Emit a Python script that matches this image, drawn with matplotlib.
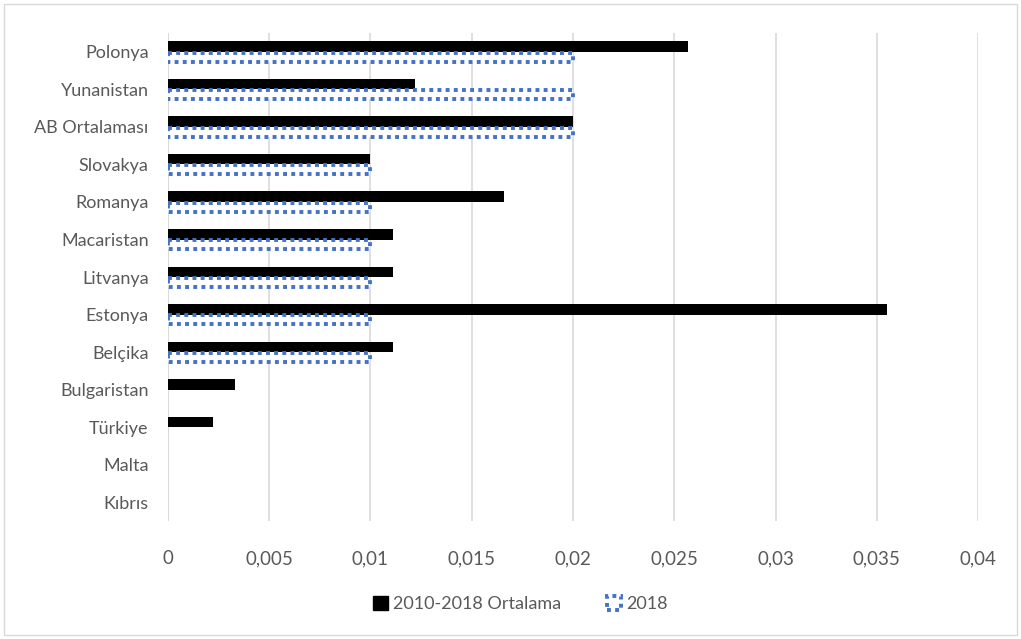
import matplotlib
matplotlib.use("Agg")
import matplotlib.pyplot as plt
from matplotlib.patches import Patch, Rectangle
import numpy as np

categories = ["Polonya", "Yunanistan", "AB Ortalaması", "Slovakya", "Romanya", "Macaristan",
              "Litvanya", "Estonya", "Belçika", "Bulgaristan", "Türkiye", "Malta", "Kıbrıs"]
avg_2010_2018 = [0.0257, 0.0122, 0.0200, 0.0100, 0.0166, 0.0111, 0.0111, 0.0355, 0.0111,
                 0.0033, 0.0022, 0.0, 0.0]
val_2018 = [0.0200, 0.0200, 0.0200, 0.0100, 0.0100, 0.0100, 0.0100, 0.0100, 0.0100,
            0.0, 0.0, 0.0, 0.0]
xticks = [0, 0.005, 0.01, 0.015, 0.02, 0.025, 0.03, 0.035, 0.04]
xticklabels = ["0", "0,005", "0,01", "0,015", "0,02", "0,025", "0,03", "0,035", "0,04"]
series_names = ["2010-2018 Ortalama", "2018"]

plt.rcParams['font.family'] = ['Lato', 'DejaVu Sans']
txt = '#595959'
blue = '#4472C4'

fig = plt.figure(figsize=(10.21, 6.39), dpi=100)
ax = fig.add_axes([0.1645, 0.185, 0.7935, 0.763])

y = np.arange(len(categories))
h = 0.28
ax.barh(y - h / 2, avg_2010_2018, height=h, color='black', zorder=3)
for yi, v in zip(y, val_2018):
    if v > 0:
        ax.barh(yi + h / 2, v, height=h * 0.85, facecolor='white', edgecolor=blue,
                linewidth=2.8, linestyle=(0, (1, 1.1)), zorder=3)

ax.set_ylim(len(categories) - 0.5, -0.5)
ax.set_xlim(0, 0.04)
ax.set_yticks(y)
ax.set_yticklabels(categories, fontsize=13, color=txt)
ax.set_xticks(xticks)
ax.set_xticklabels(xticklabels, fontsize=13.5, color=txt)
ax.tick_params(axis='both', length=0)
ax.tick_params(axis='x', pad=21)
ax.tick_params(axis='y', pad=14)
ax.grid(axis='x', color='#d9d9d9', linewidth=1.2, zorder=0)
for s in ax.spines.values():
    s.set_visible(False)
ax.axvline(0, color='#d9d9d9', linewidth=1.2, zorder=1)

handles = [Patch(facecolor='black', edgecolor='black'),
           Patch(facecolor='white', edgecolor=blue, linewidth=2.8, linestyle=(0, (1, 1.1)))]
fig.legend(handles, series_names, loc='center', bbox_to_anchor=(0.51, 0.055), ncol=2,
           frameon=False, fontsize=13, labelcolor=txt, handlelength=0.8, handleheight=0.8,
           handletextpad=0.3, columnspacing=2.5)

fig.patches.append(Rectangle((0.004, 0.006), 0.992, 0.988, transform=fig.transFigure,
                             fill=False, edgecolor='#d9d9d9', linewidth=1))
fig.savefig('out.png', dpi=100, facecolor='white')
